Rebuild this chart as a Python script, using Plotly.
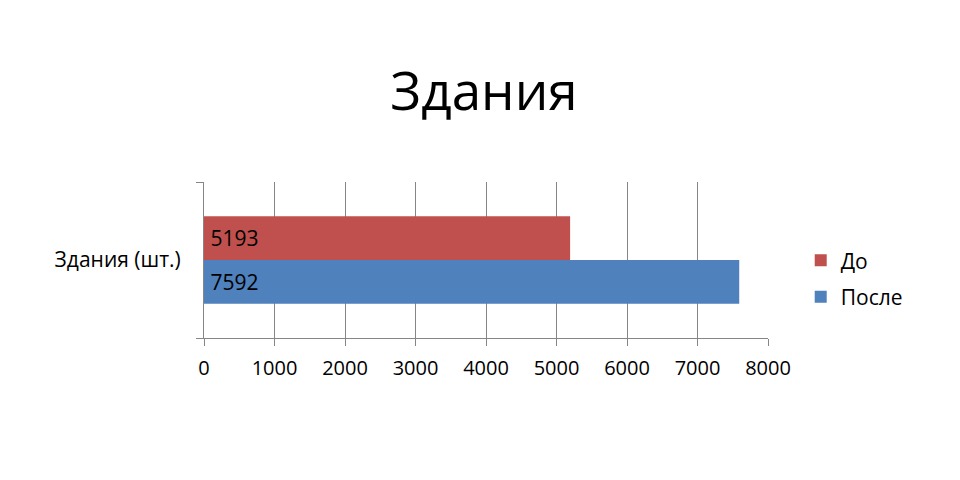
import plotly.graph_objects as go

categories = ["Здания (шт.)"]
before_values = [5193]
after_values = [7592]
series_names = ["До", "После"]
x_ticks = [0, 1000, 2000, 3000, 4000, 5000, 6000, 7000, 8000]

FONT = "'Open Sans', 'Liberation Sans', sans-serif"
GRID = "#868686"

# page body adds an 8px offset; compensate in size/margins
W, H = 952, 472

fig = go.Figure()
fig.add_trace(go.Bar(
    y=categories, x=after_values, name=series_names[1], orientation="h",
    legendgroup="after", legendrank=2,
    marker=dict(color="#4F81BD", line=dict(width=0)),
    text=[str(v) for v in after_values], texttemplate="\u2009%{text}", textposition="inside",
    insidetextanchor="start", textfont=dict(color="black", size=21, family=FONT),
))
fig.add_trace(go.Bar(
    y=categories, x=before_values, name=series_names[0], orientation="h",
    legendgroup="before", legendrank=1,
    marker=dict(color="#C0504D", line=dict(width=0)),
    text=[str(v) for v in before_values], texttemplate="\u2009%{text}", textposition="inside",
    insidetextanchor="start", textfont=dict(color="black", size=21, family=FONT),
))

fig.update_layout(
    width=W, height=H,
    paper_bgcolor="white", plot_bgcolor="white",
    barmode="group", bargap=0.44, bargroupgap=0,
    margin=dict(l=196, r=192, t=174, b=142, autoexpand=False),
    font=dict(family=FONT, color="black"),
    title=dict(text="Здания", x=0.5, xanchor="center", y=1 - 83 / H, yanchor="middle",
               font=dict(size=53, family=FONT, color="black")),
    legend=dict(x=1.058, y=0.38, xanchor="left", yanchor="middle",
                traceorder="grouped", tracegroupgap=6,
                font=dict(size=21, family=FONT),
                bgcolor="rgba(0,0,0,0)"),
    showlegend=True,
)
fig.update_xaxes(
    range=[0, 8000], tickvals=x_ticks, ticktext=[str(t) for t in x_ticks],
    showgrid=True, gridcolor=GRID, gridwidth=1,
    showline=True, linecolor=GRID, linewidth=1,
    ticks="outside", ticklen=7, tickcolor=GRID,
    tickfont=dict(size=20, family=FONT, color="black"),
    zeroline=False, ticklabelstandoff=5,
)
fig.update_yaxes(
    type="category", showline=True, linecolor=GRID, linewidth=1,
    ticks="outside", tickson="boundaries", ticklen=7, tickcolor=GRID,
    tickfont=dict(size=21, family=FONT, color="black"),
    showgrid=False, ticklabelstandoff=18,
)

fig.write_html("out.html")
